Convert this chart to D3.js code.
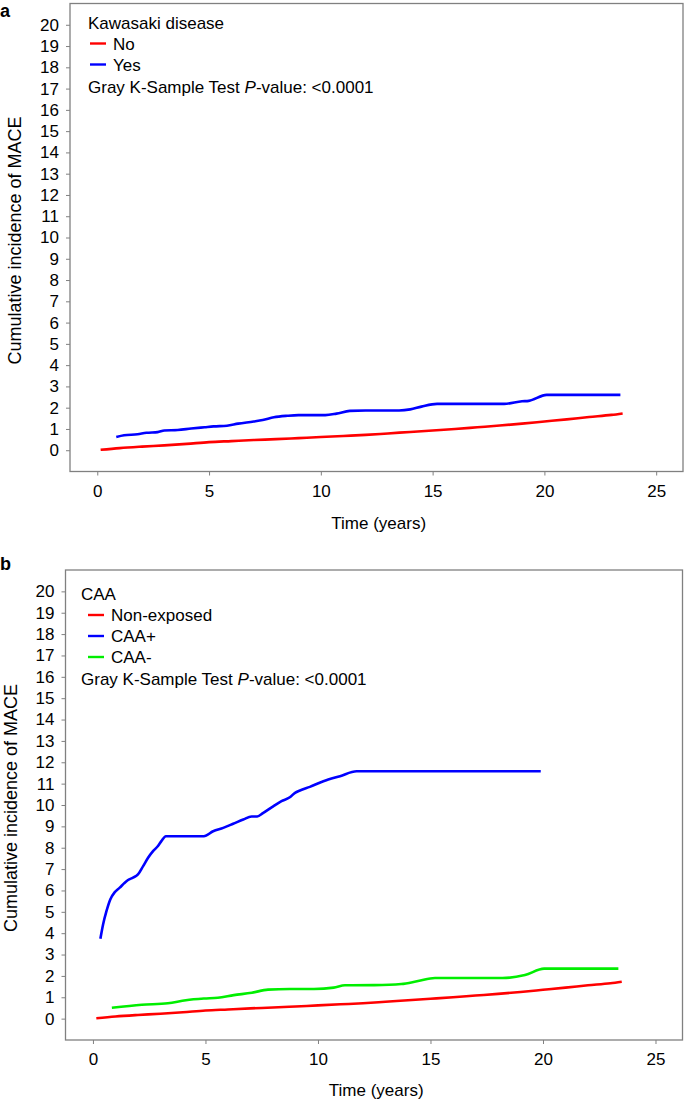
<!DOCTYPE html>
<html><head><meta charset="utf-8">
<script src="https://cdn.jsdelivr.net/npm/d3@7"></script>
<style>
body{margin:0;background:#fff;}
svg{display:block;font-family:"Liberation Sans",Arial,Helvetica,sans-serif;}
</style></head>
<body><svg id="c" width="685" height="1102"></svg>
<script>
// ---- data ----
const xTicks = [0, 5, 10, 15, 20, 25];
const yTicks = d3.range(0, 21);

const timeNonExposed = [0.15, 1, 2, 3, 4, 5, 6, 7, 8, 9, 10, 11, 12, 13, 14, 15, 16, 17, 18, 19, 20, 21, 22, 23, 23.5];
const incNonExposed  = [0.02, 0.10, 0.17, 0.23, 0.30, 0.38, 0.43, 0.48, 0.52, 0.57, 0.62, 0.67, 0.72, 0.79, 0.86, 0.93, 1.00, 1.08, 1.16, 1.25, 1.35, 1.45, 1.56, 1.66, 1.73];

const timeKawasaki = [0.85, 1.2, 1.8, 2.2, 2.7, 3.0, 3.6, 4.2, 4.8, 5.2, 5.8, 6.3, 7.0, 7.4, 7.9, 8.5, 9.0, 10.2, 10.7, 11.3, 12.0, 13.5, 14.0, 14.5, 15.2, 18.2, 19.0, 19.3, 20.1, 23.4];
const incKawasaki  = [0.62, 0.70, 0.75, 0.82, 0.85, 0.93, 0.95, 1.02, 1.08, 1.12, 1.15, 1.25, 1.35, 1.42, 1.55, 1.62, 1.65, 1.65, 1.72, 1.85, 1.87, 1.87, 1.92, 2.05, 2.18, 2.18, 2.30, 2.32, 2.60, 2.60];

const timeCAApos = [0.33, 0.45, 0.6, 0.77, 0.97, 1.19, 1.38, 1.56, 1.78, 2.0, 2.23, 2.45, 2.67, 2.89, 3.04, 3.24, 4.93, 5.34, 5.79, 6.23, 6.68, 7.05, 7.3, 7.57, 8.01, 8.38, 8.75, 8.98, 9.2, 9.64, 10.24, 10.98, 11.72, 19.9];
const incCAApos  = [3.74, 4.41, 5.03, 5.58, 5.92, 6.13, 6.33, 6.49, 6.60, 6.75, 7.14, 7.53, 7.84, 8.08, 8.31, 8.54, 8.54, 8.77, 8.93, 9.12, 9.32, 9.46, 9.46, 9.63, 9.94, 10.18, 10.36, 10.57, 10.68, 10.85, 11.11, 11.35, 11.58, 11.58];

const timeCAAneg = [0.84, 2.17, 3.33, 4.13, 4.93, 5.55, 6.26, 7.06, 7.78, 8.75, 9.82, 10.7, 11.2, 12.5, 13.7, 14.45, 15.2, 18.2, 19.2, 20.05, 23.35];
const incCAAneg  = [0.51, 0.65, 0.72, 0.86, 0.94, 0.98, 1.10, 1.21, 1.36, 1.39, 1.39, 1.45, 1.56, 1.57, 1.62, 1.76, 1.90, 1.90, 2.04, 2.34, 2.34];

const panels = [
  {
    letter: "a", box: {x0: 70, x1: 683, y0: 3.5, y1: 471.5}, letterY: 17, titleX: 15,
    legendTitle: "Kawasaki disease",
    series: [
      {name: "No", color: "#ff0000", t: timeNonExposed, v: incNonExposed},
      {name: "Yes", color: "#0000ff", t: timeKawasaki, v: incKawasaki}
    ],
    legendOrder: [0, 1], legX: 88, legTextX: 113, legY0: 28.5,
    xLabY: 494, xTitleY: 529
  },
  {
    letter: "b", box: {x0: 65.5, x1: 682.5, y0: 570, y1: 1040}, letterY: 570, titleX: 11,
    legendTitle: "CAA",
    series: [
      {name: "Non-exposed", color: "#ff0000", t: timeNonExposed, v: incNonExposed},
      {name: "CAA+", color: "#0000ff", t: timeCAApos, v: incCAApos},
      {name: "CAA-", color: "#00ee00", t: timeCAAneg, v: incCAAneg}
    ],
    legendOrder: [0, 1, 2], legX: 81, legTextX: 111, legY0: 600,
    xLabY: 1063, xTitleY: 1096
  }
];

const svg = d3.select("#c");
const axisColor = "#808080";
const fs = 17;

panels.forEach(p => {
  const g = svg.append("g");
  const x = d3.scaleLinear().domain([-1.22, 26.2]).range([p.box.x0, p.box.x1]);
  const y = d3.scaleLinear().domain([-1, 21]).range([p.box.y1, p.box.y0]);

  // plot frame
  g.append("rect").attr("x", p.box.x0).attr("y", p.box.y0)
    .attr("width", p.box.x1 - p.box.x0).attr("height", p.box.y1 - p.box.y0)
    .attr("fill", "none").attr("stroke", axisColor).attr("stroke-width", 1.3);

  // y axis
  const ya = g.append("g").attr("transform", `translate(${p.box.x0},0)`)
    .call(d3.axisLeft(y).tickValues(yTicks).tickSize(4).tickPadding(7).tickFormat(d3.format("d")));
  ya.select(".domain").remove();
  ya.selectAll(".tick line").attr("stroke", axisColor);
  ya.selectAll(".tick text").attr("font-size", fs).attr("fill", "#000")
    .attr("font-family", "Liberation Sans, Arial, sans-serif");

  // x axis
  const xa = g.append("g").attr("transform", `translate(0,${p.box.y1})`)
    .call(d3.axisBottom(x).tickValues(xTicks).tickSize(4).tickPadding(9).tickFormat(d3.format("d")));
  xa.select(".domain").remove();
  xa.selectAll(".tick line").attr("stroke", axisColor);
  xa.selectAll(".tick text").attr("font-size", fs).attr("fill", "#000")
    .attr("font-family", "Liberation Sans, Arial, sans-serif");

  // axis titles
  g.append("text").attr("x", (x(0) + x(25)) / 2 + 2).attr("y", p.xTitleY)
    .attr("text-anchor", "middle").attr("font-size", fs).text("Time (years)");
  g.append("text")
    .attr("transform", `translate(${p.titleX},${(p.box.y0 + p.box.y1) / 2 + 3}) rotate(-90)`)
    .attr("text-anchor", "middle").attr("dominant-baseline", "central")
    .attr("font-size", 18).text("Cumulative incidence of MACE");

  // panel letter
  g.append("text").attr("x", 0).attr("y", p.letterY)
    .attr("font-size", 18).attr("font-weight", "bold").text(p.letter);

  // curves
  const line = d3.line().x(d => x(d[0])).y(d => y(d[1])).curve(d3.curveMonotoneX);
  p.series.forEach(s => {
    const pts = s.t.map((t, i) => [t, s.v[i]]);
    g.append("path").attr("d", line(pts)).attr("fill", "none")
      .attr("stroke", s.color).attr("stroke-width", 2.6).attr("stroke-linejoin", "round");
  });

  // legend
  const lh = 21;
  g.append("text").attr("x", p.legX).attr("y", p.legY0).attr("font-size", fs).text(p.legendTitle);
  p.legendOrder.forEach((si, k) => {
    const s = p.series[si];
    const yy = p.legY0 + lh * (k + 1);
    g.append("line").attr("x1", p.legTextX - 23).attr("x2", p.legTextX - 7)
      .attr("y1", yy - 6).attr("y2", yy - 6).attr("stroke", s.color).attr("stroke-width", 2.4);
    g.append("text").attr("x", p.legTextX).attr("y", yy).attr("font-size", fs).text(s.name);
  });
  const gy = p.legY0 + lh * (p.legendOrder.length + 1) + 1;
  const gt = g.append("text").attr("x", p.legX).attr("y", gy).attr("font-size", fs);
  gt.append("tspan").text("Gray K-Sample Test ");
  gt.append("tspan").attr("font-style", "italic").text("P");
  gt.append("tspan").text("-value: <0.0001");
});
</script>
</body></html>
